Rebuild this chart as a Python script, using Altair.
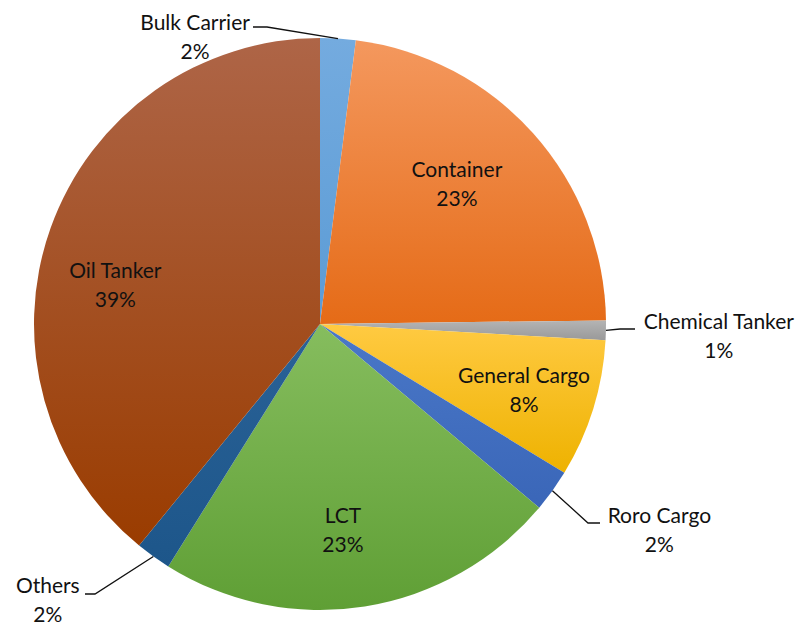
import math
import altair as alt
import pandas as pd

# ---- data ----
categories = ["Bulk Carrier", "Container", "Chemical Tanker", "General Cargo",
              "Roro Cargo", "LCT", "Others", "Oil Tanker"]
values = [2.0, 22.8, 1.1, 7.8, 2.4, 22.8, 2.0, 39.1]

# ---- styles ----
gradients = {
    "Bulk Carrier": ("#74abdf", "#5b9bd5"),
    "Container": ("#f4985e", "#e56b17"),
    "Chemical Tanker": ("#b4b4b4", "#999999"),
    "General Cargo": ("#ffca42", "#eeb200"),
    "Roro Cargo": ("#4a78c8", "#3a66b8"),
    "LCT": ("#86bd5e", "#5f9f35"),
    "Others": ("#2a6297", "#1d568a"),
    "Oil Tanker": ("#ae6547", "#9a3c00"),
}

# ---- layout ----
W, H = 790, 622
CX, CY, R = 312, 316, 286
FONT = "Lato"
FS = 21
LH = 29
# label placement (angle in degrees clockwise from top, radius in px)
label_polar = {
    "Bulk Carrier": (336.4, 312), "Container": (44.6, 195),
    "Chemical Tanker": (91.9, 399), "General Cargo": (108.4, 215),
    "Roro Cargo": (121.5, 398), "LCT": (173.7, 209),
    "Others": (224.4, 389), "Oil Tanker": (280.3, 208),
}
# leader elbow / end offsets from pie centre
leaders = {
    "Bulk Carrier": [(-53, -297), (-67, -297)],
    "Chemical Tanker": [(300, 5), (315, 5)],
    "Roro Cargo": [(268, 199), (280, 199)],
    "Others": [(-225, 270), (-235, 270)],
}

total = sum(values)
rows, acc = [], 0.0
for c, v in zip(categories, values):
    start = acc / total * 100
    acc += v
    end = acc / total * 100
    rows.append(dict(category=c, value=v, start=start, end=end,
                     mid=(start + end) / 2,
                     label=f"{c}\n{round(v / total * 100)}%"))
df = pd.DataFrame(rows)

theta_scale = alt.Scale(domain=[0, 100], range=[0, 2 * math.pi])

layers = []
for c in categories:
    top, bot = gradients[c]
    grad = alt.Gradient(
        gradient="linear",
        stops=[alt.GradientStop(color=top, offset=0),
               alt.GradientStop(color=bot, offset=1)],
        x1=0, x2=0, y1=0, y2=1)
    layers.append(
        alt.Chart(df).transform_filter(alt.datum.category == c)
        .mark_arc(outerRadius=R, fill=grad)
        .encode(theta=alt.Theta("start:Q", scale=theta_scale),
                theta2="end:Q",
                x=alt.value(CX), y=alt.value(CY)))

# labels
lab = df.copy()
lab["lx"] = [CX + label_polar[c][1] * math.sin(math.radians(label_polar[c][0])) for c in lab.category]
lab["ly"] = [CY - label_polar[c][1] * math.cos(math.radians(label_polar[c][0])) for c in lab.category]
labels = alt.Chart(lab).mark_text(
    font=FONT, fontSize=FS, lineBreak="\n", lineHeight=LH, dy=-LH / 2,
    align="center", baseline="middle", color="#111111"
).encode(x=alt.X("lx:Q", scale=None), y=alt.Y("ly:Q", scale=None),
         text="label:N")

# leader lines
lrows = []
for c, pts in leaders.items():
    mid = df.loc[df.category == c, "mid"].iloc[0]
    a = mid / 100 * 2 * math.pi
    lrows.append(dict(category=c, o=0, px=CX + R * math.sin(a), py=CY - R * math.cos(a)))
    for i, (dx, dy) in enumerate(pts):
        lrows.append(dict(category=c, o=i + 1, px=CX + dx, py=CY + dy))
ldf = pd.DataFrame(lrows)
lines = alt.Chart(ldf).mark_line(color="#111111", strokeWidth=1.3).encode(
    x=alt.X("px:Q", scale=None), y=alt.Y("py:Q", scale=None),
    detail="category:N", order="o:Q")

chart = alt.layer(*layers, lines, labels).properties(
    width=W, height=H, padding=0, autosize="none"
).configure_view(stroke=None)

chart.save("out.html", embed_options={"renderer": "svg", "actions": False})
